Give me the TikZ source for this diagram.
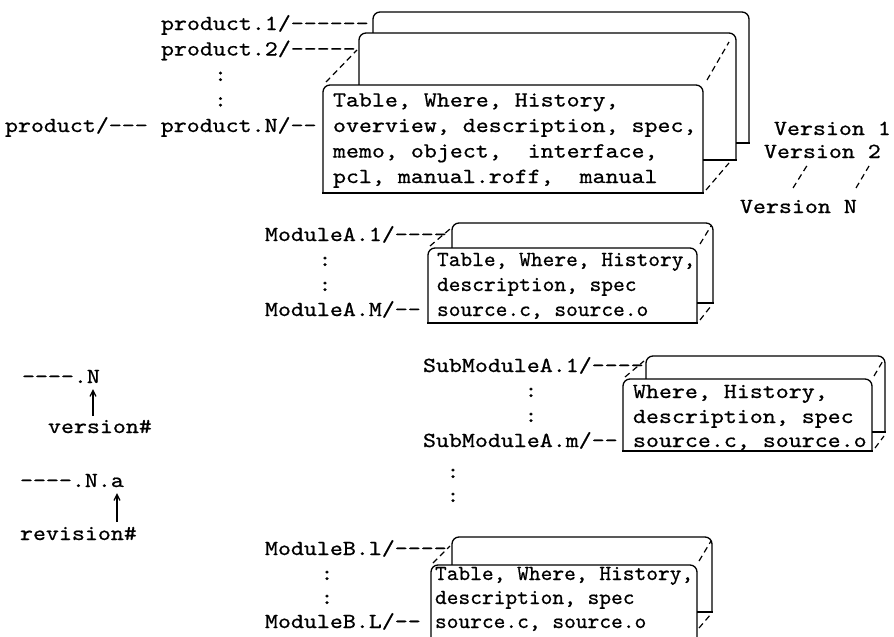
\documentclass[tikz,border=0pt]{standalone}
\usepackage{fontspec}
\newfontfamily\tw{lmmono10-regular}[Extension=.otf,FakeStretch=1.15,FakeBold=0.7]
\newfontfamily\twn{lmmono10-regular}[Extension=.otf,FakeStretch=1.04,FakeBold=0.7]
\usetikzlibrary{arrows.meta}
\tikzset{
  lbl/.style={anchor=base west,inner sep=0pt,outer sep=0pt,font=\tw\fontsize{21.5pt}{24pt}\selectfont},
  lbln/.style={anchor=base west,inner sep=0pt,outer sep=0pt,font=\twn\fontsize{21.5pt}{24pt}\selectfont},
  edge/.style={line width=1.3pt,line join=round},
  depthline/.style={line width=1.2pt,dash pattern=on 6pt off 4pt},
  uparrow/.style={line width=1.3pt,-{Straight Barb[length=6pt,width=6pt]}},
}
\newcommand\stackbox[5]{%
  \fill[white] (#2,#3) rectangle (#4,#5);
  \draw[edge,rounded corners=7pt] (#2,#5) -- (#2,#3) -- (#4,#3) -- (#4,#5);
  \draw[edge,line cap=rect] (#2,#5) -- (#4,#5);
  \coordinate (#1nw) at (#2,#3);
  \coordinate (#1se) at (#4,#5);
}
\begin{document}
\begin{tikzpicture}[x=1pt,y=-1pt]
\fill[white] (0,0) rectangle (894,637);
\useasboundingbox (0,0) rectangle (894,637);

% ---------------- product stack ----------------
\stackbox{pb}{373}{12}{749}{143}
\stackbox{pm}{359}{33}{736}{160}
\stackbox{pf}{323}{85}{703}{193}
\coordinate (pd1a) at (326,82);  \coordinate (pd1b) at (357,50);
\coordinate (pd2a) at (707,80);  \coordinate (pd2b) at (729,42);
\coordinate (pd3a) at (706,190); \coordinate (pd3b) at (729,163);
\draw[depthline] (pd1a) -- (pd1b);
\draw[depthline] (pd2a) -- (pd2b);
\draw[depthline] (pd3a) -- (pd3b);

\node[lbl] (p1) at (161,30) {product.1/------};
\node[lbl] (p2) at (161,55.5) {product.2/-----};
\node[lbl] (pc1) at (214,81) {:};
\node[lbl] (pc2) at (214,106.5) {:};
\node[lbl] (pN) at (5,132) {product/---\ product.N/--};
\node[lbl] (pt1) at (333,106.5) {Table, Where, History,};
\node[lbl] (pt2) at (333,132) {overview, description, spec,};
\node[lbl] (pt3) at (333,157.5) {memo, object,\ \ interface,};
\node[lbl] (pt4) at (333,183) {pcl, manual.roff,\ \ manual};

% versions
\node[lbl] (v1) at (774,135) {Version 1};
\node[lbl] (v2) at (764,158) {Version 2};
\node[lbl] (vN) at (740,213) {Version N};
\coordinate (vd1a) at (793,188); \coordinate (vd1b) at (808,164);
\coordinate (vd2a) at (856,188); \coordinate (vd2b) at (869,166);
\draw[depthline] (vd1a) -- (vd1b);
\draw[depthline] (vd2a) -- (vd2b);

% ---------------- ModuleA stack ----------------
\stackbox{ab}{452}{223}{713}{303}
\stackbox{af}{428}{248}{697}{323}
\coordinate (ad1a) at (430,246); \coordinate (ad1b) at (450,229);
\coordinate (ad2a) at (700,244); \coordinate (ad2b) at (711,226);
\coordinate (ad3a) at (700,320); \coordinate (ad3b) at (711,306);
\draw[depthline] (ad1a) -- (ad1b);
\draw[depthline] (ad2a) -- (ad2b);
\draw[depthline] (ad3a) -- (ad3b);

\node[lbl] (a1) at (265,241) {ModuleA.1/----};
\node[lbl] (ac1) at (318.5,266) {:};
\node[lbl] (ac2) at (318.5,291) {:};
\node[lbl] (aM) at (265,316) {ModuleA.M/--};
\node[lbln] (at1) at (437,266) {Table, Where, History,};
\node[lbln] (at2) at (437,291) {description, spec};
\node[lbln] (at3) at (437,316) {source.c, source.o};

% ---------------- SubModuleA stack ----------------
\stackbox{sb}{646}{356}{885}{432}
\stackbox{sf}{623}{379}{872}{451}
\coordinate (sd1a) at (625,377); \coordinate (sd1b) at (644,361);
\coordinate (sd2a) at (874,376); \coordinate (sd2b) at (884,359);
\coordinate (sd3a) at (875,448); \coordinate (sd3b) at (884,436);
\draw[depthline] (sd1a) -- (sd1b);
\draw[depthline] (sd2a) -- (sd2b);
\draw[depthline] (sd3a) -- (sd3b);

\node[lbl] (s1) at (423,372) {SubModuleA.1/----};
\node[lbl] (sc1) at (524.5,397) {:};
\node[lbl] (sc2) at (524.5,422) {:};
\node[lbl] (sm) at (423,447) {SubModuleA.m/--};
\node[lbl] (st1) at (633,398) {Where, History,};
\node[lbl] (st2) at (633,423) {description, spec};
\node[lbl] (st3) at (633,447) {source.c, source.o};
\node[lbl] (sc3) at (446.5,478) {:};
\node[lbl] (sc4) at (446.5,502) {:};

% ---------------- ModuleB stack ----------------
\stackbox{bb}{452}{537}{712}{612}
\stackbox{bf}{431}{565}{697}{645}
\coordinate (bd1a) at (433,563); \coordinate (bd1b) at (450,546);
\coordinate (bd2a) at (699,561); \coordinate (bd2b) at (711,541);
\coordinate (bd3a) at (699,628); \coordinate (bd3b) at (711,614);
\draw[depthline] (bd1a) -- (bd1b);
\draw[depthline] (bd2a) -- (bd2b);
\draw[depthline] (bd3a) -- (bd3b);

\node[lbl] (b1) at (265,555) {ModuleB.l/----};
\node[lbl] (bc1) at (320.5,580) {:};
\node[lbl] (bc2) at (320.5,604) {:};
\node[lbl] (bL) at (265,628) {ModuleB.L/--};
\node[lbln] (bt1) at (435,580) {Table, Where, History,};
\node[lbln] (bt2) at (435,604) {description, spec};
\node[lbln] (bt3) at (435,628) {source.c, source.o};

% ---------------- legend ----------------
\node[lbl] (gN) at (22,383) {----.N};
\node[lbl] (gv) at (48,433) {version\#};
\coordinate (ga1) at (93,416); \coordinate (ga2) at (93,389);
\draw[uparrow] (ga1) -- (ga2);

\node[lbl] (gNa) at (20,487) {----.N.a};
\node[lbl] (gr) at (20,540) {revision\#};
\coordinate (gb1) at (117,522); \coordinate (gb2) at (117,493);
\draw[uparrow] (gb1) -- (gb2);
\end{tikzpicture}
\end{document}
